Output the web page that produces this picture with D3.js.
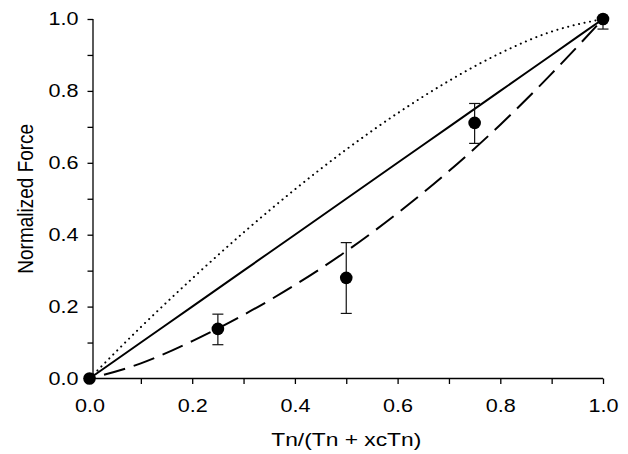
<!DOCTYPE html>
<html>
<head>
<meta charset="utf-8">
<script src="https://cdn.jsdelivr.net/npm/d3@7"></script>
<style>
  body { margin: 0; background: #fff; }
  svg { display: block; font-family: "Liberation Sans", Arial, sans-serif; }
</style>
</head>
<body>
<div id="chart"></div>
<script>
// Measured points with error bars
var pointX = [0, 0.25, 0.5, 0.75, 1.0];
var pointY = [0, 0.138, 0.28, 0.711, 1.0];
var errLow = [0, 0.094, 0.181, 0.654, 0.972];
var errHigh = [0, 0.179, 0.378, 0.765, 1.0];

// Model curves
var curveX = [0, 0.1, 0.2, 0.3, 0.4, 0.5, 0.6, 0.7, 0.8, 0.9, 1.0];
var solidY = [0, 0.1, 0.2, 0.3, 0.4, 0.5, 0.6, 0.7, 0.8, 0.9, 1.0];
var dottedY = [0, 0.143, 0.278, 0.406, 0.526, 0.637, 0.738, 0.828, 0.905, 0.965, 1.0];
var dashedY = [0, 0.042, 0.104, 0.177, 0.26, 0.354, 0.46, 0.577, 0.706, 0.848, 1.0];

var majorTicks = [0, 0.2, 0.4, 0.6, 0.8, 1.0];
var minorTicks = [0.1, 0.3, 0.5, 0.7, 0.9];

var width = 628, height = 454;
var xScale = d3.scaleLinear().domain([0, 1]).range([89.5, 603]);
var yScale = d3.scaleLinear().domain([0, 1]).range([378.5, 19]);
var axisX = 93;     // y axis line sits a little right of x = 0
var stretch = 1.2;  // text in the original is a bit wide

var svg = d3.select("#chart").append("svg")
    .attr("width", width)
    .attr("height", height);

function label(d) { return majorTicks.indexOf(d) >= 0 ? d3.format(".1f")(d) : ""; }

// Axes
var xAxis = d3.axisBottom(xScale)
    .tickValues(majorTicks.concat(minorTicks))
    .tickSize(5.5)
    .tickPadding(15)
    .tickFormat(label);

var yAxis = d3.axisLeft(yScale)
    .tickValues(majorTicks.concat(minorTicks))
    .tickSize(5.5)
    .tickPadding(9)
    .tickFormat(label);

var gx = svg.append("g")
    .attr("transform", "translate(0," + yScale(0) + ")")
    .call(xAxis);
gx.select(".domain").attr("d", "M" + axisX + ",0H" + xScale(1));

var gy = svg.append("g")
    .attr("transform", "translate(" + axisX + ",0)")
    .call(yAxis);
gy.select(".domain").attr("d", "M0," + yScale(0) + "V" + yScale(1));

svg.selectAll(".domain").attr("stroke", "#000").attr("stroke-width", 1.3);
svg.selectAll(".tick line").attr("stroke", "#000").attr("stroke-width", 1.3);
svg.selectAll(".tick text")
    .attr("fill", "#000")
    .style("font-size", "18px")
    .style("font-family", "Liberation Sans, Arial, sans-serif");

// widen tick labels around their anchor
gx.selectAll(".tick text").attr("transform", "scale(" + stretch + ",1)");
gy.selectAll(".tick text").attr("transform", function() {
  var x = +d3.select(this).attr("x");
  return "translate(" + x + ",0) scale(" + stretch + ",1) translate(" + (-x) + ",0)";
});

// Axis titles
svg.append("text")
    .attr("transform", "translate(" + ((xScale(0) + xScale(1)) / 2) + ",446) scale(" + stretch + ",1)")
    .attr("text-anchor", "middle")
    .style("font-size", "19px")
    .text("Tn/(Tn + xcTn)");

svg.append("text")
    .attr("transform", "translate(33," + ((yScale(0) + yScale(1)) / 2) + ") scale(" + stretch + ",1) rotate(-90)")
    .attr("text-anchor", "middle")
    .style("font-size", "19px")
    .text("Normalized Force");

// Curves
var line = d3.line()
    .x(function(d) { return xScale(d[0]); })
    .y(function(d) { return yScale(d[1]); })
    .curve(d3.curveMonotoneX);

function zipCurve(ys) { return curveX.map(function(x, i) { return [x, ys[i]]; }); }

svg.append("path")
    .datum(zipCurve(dottedY))
    .attr("d", line)
    .attr("fill", "none")
    .attr("stroke", "#000")
    .attr("stroke-width", 2)
    .attr("stroke-linecap", "round")
    .attr("stroke-dasharray", "0.1,5.5");

svg.append("path")
    .datum(zipCurve(solidY))
    .attr("d", line)
    .attr("fill", "none")
    .attr("stroke", "#000")
    .attr("stroke-width", 2);

svg.append("path")
    .datum(zipCurve(dashedY))
    .attr("d", line)
    .attr("fill", "none")
    .attr("stroke", "#000")
    .attr("stroke-width", 2)
    .attr("stroke-dasharray", "22,9")
    .attr("stroke-dashoffset", 16);

// Error bars
var points = pointX.map(function(x, i) {
  return { x: x, y: pointY[i], lo: errLow[i], hi: errHigh[i] };
});

var err = svg.append("g").selectAll("g")
    .data(points.filter(function(d) { return d.hi > d.lo; }))
    .enter().append("g")
    .attr("stroke", "#111")
    .attr("stroke-width", 1.2);

err.append("line")
    .attr("x1", function(d) { return xScale(d.x); })
    .attr("x2", function(d) { return xScale(d.x); })
    .attr("y1", function(d) { return yScale(d.lo); })
    .attr("y2", function(d) { return yScale(d.hi); });

err.append("line")
    .attr("x1", function(d) { return xScale(d.x) - 5.5; })
    .attr("x2", function(d) { return xScale(d.x) + 5.5; })
    .attr("y1", function(d) { return yScale(d.lo); })
    .attr("y2", function(d) { return yScale(d.lo); });

err.append("line")
    .attr("x1", function(d) { return xScale(d.x) - 5.5; })
    .attr("x2", function(d) { return xScale(d.x) + 5.5; })
    .attr("y1", function(d) { return yScale(d.hi); })
    .attr("y2", function(d) { return yScale(d.hi); });

// Points
svg.append("g").selectAll("circle")
    .data(points)
    .enter().append("circle")
    .attr("cx", function(d) { return xScale(d.x); })
    .attr("cy", function(d) { return yScale(d.y); })
    .attr("r", 6.3)
    .attr("fill", "#000");
</script>
</body>
</html>
